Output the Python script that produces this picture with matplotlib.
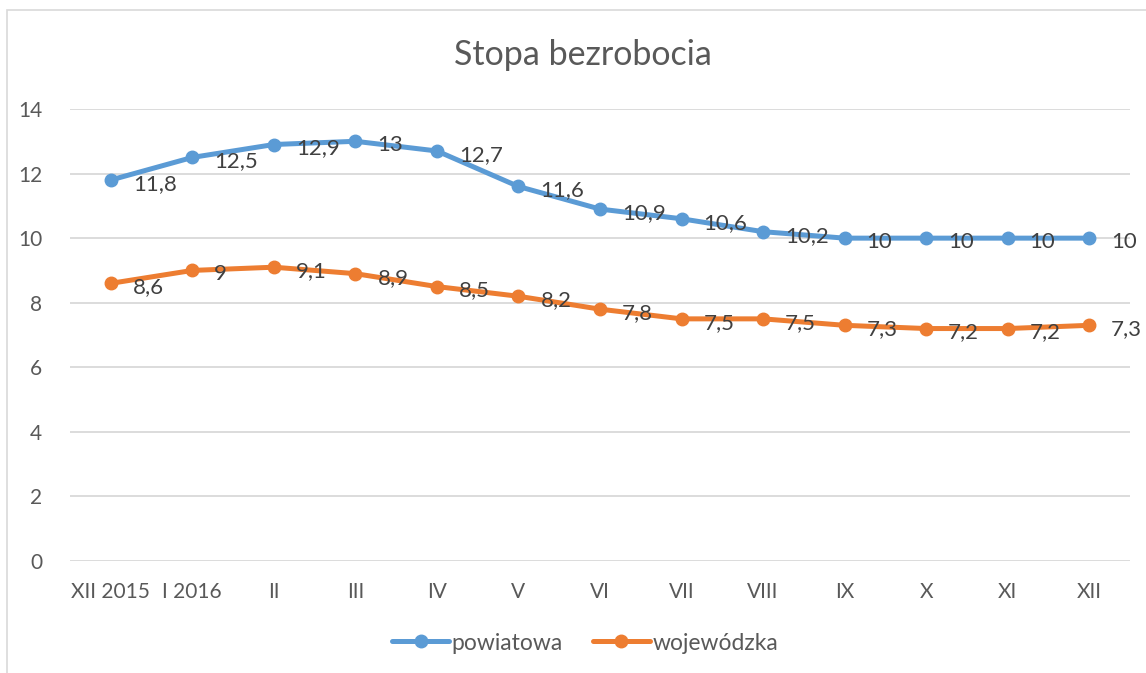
import matplotlib.pyplot as plt
from matplotlib.patches import Rectangle

months = ["XII 2015", "I 2016", "II", "III", "IV", "V", "VI",
          "VII", "VIII", "IX", "X", "XI", "XII"]
powiatowa = [11.8, 12.5, 12.9, 13, 12.7, 11.6, 10.9, 10.6, 10.2, 10, 10, 10, 10]
wojewodzka = [8.6, 9, 9.1, 8.9, 8.5, 8.2, 7.8, 7.5, 7.5, 7.3, 7.2, 7.2, 7.3]

plt.rcParams["font.family"] = ["Lato", "DejaVu Sans"]
grey = "#595959"

fig = plt.figure(figsize=(11.46, 6.73), dpi=100)
ax = fig.add_axes([70 / 1146, 1 - 561 / 673, 1060 / 1146, 452 / 673])

# chart frame (right and bottom edges are outside the picture)
fig.patches.append(Rectangle((7 / 1146, -0.1), 1.2, 1.1 - 10 / 673,
                             transform=fig.transFigure, fill=False,
                             edgecolor="#D9D9D9", lw=1.2))

x = list(range(len(months)))
ax.plot(x, powiatowa, color="#5B9BD5", lw=3.6, marker="o", ms=9,
        label="powiatowa", solid_capstyle="round")
ax.plot(x, wojewodzka, color="#ED7D31", lw=3.6, marker="o", ms=9,
        label="wojewódzka", solid_capstyle="round")

for series in (powiatowa, wojewodzka):
    for i, v in enumerate(series):
        ax.annotate(str(v).replace(".", ","), (i, v), xytext=(22, -4),
                    textcoords="offset pixels", ha="left", va="center",
                    fontsize=16, color="#404040")

ax.set_xlim(-0.5, len(months) - 0.5)
ax.set_ylim(0, 14)
ax.set_yticks(range(0, 15, 2))
ax.set_xticks(x)
ax.set_xticklabels(months)
ax.tick_params(length=0, labelsize=15, colors=grey)
ax.tick_params(axis="x", pad=15)
ax.tick_params(axis="y", pad=20)
ax.grid(axis="y", color="#D9D9D9", lw=1.3)
ax.set_axisbelow(True)
for s in ax.spines.values():
    s.set_visible(False)

fig.text(583 / 1146, 1 - 55 / 673, "Stopa bezrobocia", ha="center",
         va="center", fontsize=24.5, color=grey)

fig.legend(loc="center", bbox_to_anchor=(585 / 1146, 1 - 643 / 673), ncol=2,
           frameon=False, fontsize=16.5, labelcolor=grey, handlelength=2.5,
           handletextpad=0.1, columnspacing=1.3)

fig.savefig("out.png", dpi=100)
